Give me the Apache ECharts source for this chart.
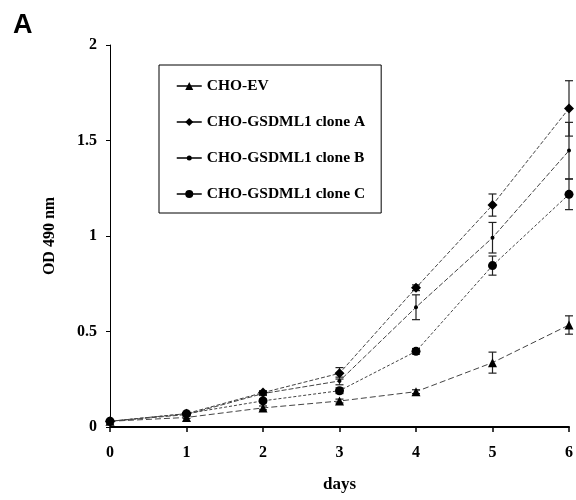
<!DOCTYPE html>
<html>
<head>
<meta charset="utf-8">
<script src="https://cdn.jsdelivr.net/npm/echarts@6/dist/echarts.min.js"></script>
<style>
  html, body { margin: 0; padding: 0; background: #fff; }
  #chart { width: 576px; height: 500px; }
</style>
</head>
<body>
<div id="chart"></div>
<script>
  // days on the x axis
  var days = [0, 1, 2, 3, 4, 5, 6];
  var seriesNames = ['CHO-EV', 'CHO-GSDML1 clone A', 'CHO-GSDML1 clone B', 'CHO-GSDML1 clone C'];
  // OD 490 nm means
  var evValues = [0.03, 0.05, 0.10, 0.136, 0.185, 0.337, 0.534];
  var cloneAValues = [0.03, 0.07, 0.18, 0.281, 0.729, 1.162, 1.668];
  var cloneBValues = [0.03, 0.065, 0.175, 0.241, 0.627, 0.991, 1.447];
  var cloneCValues = [0.03, 0.07, 0.137, 0.19, 0.396, 0.845, 1.218];
  // error bar half-heights
  var evErrors = [0.005, 0.005, 0.01, 0.01, 0.01, 0.055, 0.048];
  var cloneAErrors = [0.005, 0.005, 0.01, 0.03, 0.015, 0.058, 0.145];
  var cloneBErrors = [0.005, 0.005, 0.01, 0.02, 0.065, 0.08, 0.148];
  var cloneCErrors = [0.005, 0.005, 0.01, 0.015, 0.015, 0.05, 0.08];

  var fontSerif = '"Liberation Serif", "DejaVu Serif", serif';

  var chart = echarts.init(document.getElementById('chart'));

  function pairs(vals) {
    var out = [];
    for (var i = 0; i < days.length; i++) out.push([days[i], vals[i]]);
    return out;
  }
  function errData(vals, errs) {
    var out = [];
    for (var i = 0; i < days.length; i++) out.push([days[i], vals[i] - errs[i], vals[i] + errs[i]]);
    return out;
  }
  function errorSeries(vals, errs) {
    return {
      type: 'custom',
      silent: true,
      z: 3,
      data: errData(vals, errs),
      renderItem: function (params, api) {
        var lo = api.coord([api.value(0), api.value(1)]);
        var hi = api.coord([api.value(0), api.value(2)]);
        var w = 4;
        var st = { stroke: '#222', lineWidth: 1.2 };
        return {
          type: 'group',
          children: [
            { type: 'line', shape: { x1: lo[0], y1: lo[1], x2: hi[0], y2: hi[1] }, style: st },
            { type: 'line', shape: { x1: lo[0] - w, y1: lo[1], x2: lo[0] + w, y2: lo[1] }, style: st },
            { type: 'line', shape: { x1: hi[0] - w, y1: hi[1], x2: hi[0] + w, y2: hi[1] }, style: st }
          ]
        };
      }
    };
  }
  function lineSeries(name, vals, symbol, size, dash) {
    return {
      name: name,
      type: 'line',
      data: pairs(vals),
      symbol: symbol,
      symbolSize: size,
      z: 4,
      itemStyle: { color: '#000' },
      lineStyle: { color: '#444', width: 1, type: dash }
    };
  }

  // legend icon for clone B: line with a small dot
  var smallDotIcon = 'path://M0,4.3L25,4.3L25,5.7L0,5.7Z M10,5A2.5,2.5 0 1,1 15,5A2.5,2.5 0 1,1 10,5Z';

  var option = {
    animation: false,
    backgroundColor: '#fff',
    title: {
      text: 'A',
      left: 8,
      top: 7,
      textStyle: { fontFamily: '"Liberation Sans", Arial, sans-serif', fontWeight: 'bold', fontSize: 27, color: '#000' }
    },
    legend: {
      data: seriesNames.map(function (n, i) {
        var item = { name: n, itemStyle: { color: '#000', borderWidth: 0 }, lineStyle: { color: '#000', type: 'solid', width: 1.5 } };
        if (i === 2) item.icon = smallDotIcon;
        return item;
      }),
      orient: 'vertical',
      left: 159,
      top: 65,
      padding: [13, 16, 11, 17],
      itemGap: 20,
      itemWidth: 25,
      itemHeight: 10,
      borderColor: '#000',
      borderWidth: 1,
      backgroundColor: '#fff',
      textStyle: { fontFamily: fontSerif, fontWeight: 'bold', fontSize: 15.5, color: '#000' }
    },
    grid: { left: 110, right: 5, top: 45, bottom: 73 },
    xAxis: {
      type: 'value',
      min: 0,
      max: 6,
      interval: 1,
      name: 'days',
      nameLocation: 'middle',
      nameGap: 49,
      nameTextStyle: { fontFamily: fontSerif, fontWeight: 'bold', fontSize: 17, color: '#000' },
      axisLine: { lineStyle: { color: '#000', width: 2 } },
      axisTick: { length: 5, lineStyle: { color: '#000', width: 1.5 } },
      axisLabel: { fontFamily: fontSerif, fontWeight: 'bold', fontSize: 16, color: '#000', margin: 18 },
      splitLine: { show: false }
    },
    yAxis: {
      type: 'value',
      min: 0,
      max: 2,
      interval: 0.5,
      name: 'OD 490 nm',
      nameLocation: 'middle',
      nameGap: 52,
      nameTextStyle: { fontFamily: fontSerif, fontWeight: 'bold', fontSize: 16, color: '#000' },
      axisLine: { show: true, lineStyle: { color: '#000', width: 1 } },
      axisTick: { show: true, length: 4, lineStyle: { color: '#000' } },
      axisLabel: { fontFamily: fontSerif, fontWeight: 'bold', fontSize: 16, color: '#000', margin: 13 },
      splitLine: { show: false }
    },
    series: [
      lineSeries(seriesNames[0], evValues, 'triangle', 9, [6, 3]),
      lineSeries(seriesNames[1], cloneAValues, 'diamond', 10, [4, 2]),
      lineSeries(seriesNames[2], cloneBValues, 'circle', 4, [5, 2]),
      lineSeries(seriesNames[3], cloneCValues, 'circle', 9, [3, 2]),
      errorSeries(evValues, evErrors),
      errorSeries(cloneAValues, cloneAErrors),
      errorSeries(cloneBValues, cloneBErrors),
      errorSeries(cloneCValues, cloneCErrors)
    ]
  };
  chart.setOption(option);
</script>
</body>
</html>
